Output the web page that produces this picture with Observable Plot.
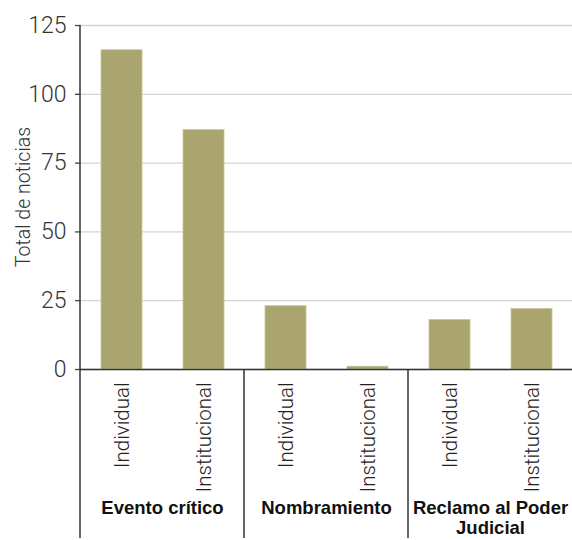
<!DOCTYPE html>
<html>
<head>
<meta charset="utf-8">
<script src="https://cdn.jsdelivr.net/npm/d3@7"></script>
<script src="https://cdn.jsdelivr.net/npm/@observablehq/plot@0.6"></script>
<style>
  html, body { margin: 0; padding: 0; background: #fff; }
  #chart { width: 572px; height: 540px; }
</style>
</head>
<body>
<div id="chart"></div>
<script>
// ---- data ----
const groups = ["Evento crítico", "Nombramiento", "Reclamo al Poder Judicial"];
const types = ["Individual", "Institucional"];
const individual = [116, 23, 18];
const institucional = [87, 1, 22];
const yTicks = [0, 25, 50, 75, 100, 125];
const yLabel = "Total de noticias";
const groupLabels = ["Evento crítico", "Nombramiento", "Reclamo al Poder\nJudicial"];

const rows = [];
groups.forEach((g, i) => {
  rows.push({group: g, type: types[0], value: individual[i]});
  rows.push({group: g, type: types[1], value: institucional[i]});
});

const lightFont = "Roboto, 'Liberation Sans', sans-serif";
const boldFont = "'Liberation Sans', Arial, sans-serif";
const W = 572, H = 540;

const plot = Plot.plot({
  width: W,
  height: H,
  marginLeft: 80,
  marginRight: 0,
  marginTop: 25,
  marginBottom: 171,
  style: {fontFamily: lightFont, fontWeight: 300, background: "#fff", overflow: "visible"},
  fx: {domain: groups, padding: 0, label: null},
  x: {domain: types, paddingInner: 0.5, paddingOuter: 0.25, label: null},
  y: {domain: [0, 125], label: null},
  marks: [
    Plot.gridY(yTicks, {stroke: "#d4d4d4", strokeOpacity: 1, strokeWidth: 1.3}),
    Plot.barY(rows, {fx: "group", x: "type", y: "value", fill: "#aaa56f", stroke: "#c9c597", strokeWidth: 0.8}),
    Plot.ruleY([0], {stroke: "#333", strokeWidth: 1.5}),
    Plot.axisY(yTicks, {tickSize: 5, tickPadding: 9, fontSize: 23, fill: "#333", stroke: "#444", strokeWidth: 1.3, label: null}),
    Plot.axisX({tickRotate: -90, tickSize: 0, tickPadding: 13, fontSize: 20.5, fill: "#222", label: null}),
    Plot.axisFx({anchor: "bottom", tickSize: 0, tickPadding: 131, fontSize: 18.5, fontWeight: "bold",
      fontFamily: boldFont, fill: "#111", label: null, lineHeight: 1.06,
      tickFormat: (d) => groupLabels[groups.indexOf(d)]})
  ]
});

document.getElementById("chart").appendChild(plot);

// separators & y-axis line, positioned via the plot's own scales
const fx = plot.scale("fx");
const y = plot.scale("y");
const svg = d3.select(plot);
const sep = svg.append("g").attr("stroke", "#333").attr("stroke-width", 1.5);
groups.forEach((g, i) => {
  const xp = fx.apply(g);
  sep.append("line")
    .attr("x1", xp).attr("x2", xp)
    .attr("y1", i === 0 ? y.apply(125) : y.apply(0))
    .attr("y2", H - 2);
});

// rotated y-axis title
svg.append("text")
  .attr("transform", `translate(23,${(y.apply(0) + y.apply(125)) / 2}) rotate(-90)`)
  .attr("text-anchor", "middle")
  .attr("dominant-baseline", "central")
  .style("font-family", lightFont)
  .style("font-weight", 300)
  .style("font-size", "19.5px")
  .attr("fill", "#333")
  .text(yLabel);
</script>
</body>
</html>
